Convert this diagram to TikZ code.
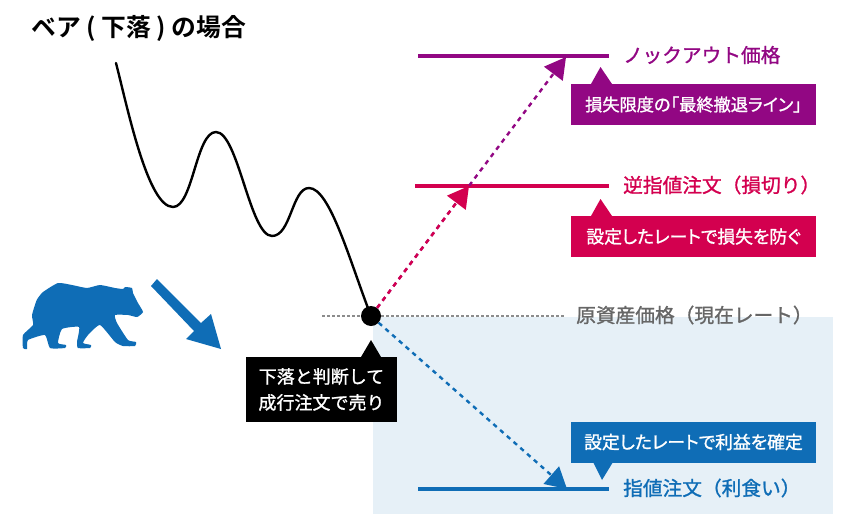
\documentclass[tikz,border=0pt]{standalone}
\usepackage{fontspec}
\setmainfont{Noto Sans CJK JP}[FakeBold=1.2]
\newfontfamily\jpbold{Noto Sans CJK JP Bold}
\newfontfamily\jppal[RawFeature=+palt,FakeBold=1.2]{Noto Sans CJK JP}
\usetikzlibrary{arrows.meta}
\definecolor{cpurple}{HTML}{920783}
\definecolor{cpink}{HTML}{D3004F}
\definecolor{cblue}{HTML}{0F6DB6}
\definecolor{cpale}{HTML}{E6F0F7}
\definecolor{cgray}{HTML}{666666}
\tikzset{
  level/.style={line width=3.6pt},
  dashconn/.style={line width=2.4pt,dash pattern=on 4.5pt off 4.5pt,-{Triangle[length=21pt,width=23pt,sharp]}},
  graydot/.style={color=black!45,line width=2.4pt,dash pattern=on 3pt off 2pt},
  callout/.style={minimum width=245pt,minimum height=41pt,inner sep=0,text=white,font=\fontsize{17.8}{20}\selectfont},
  price/.style={anchor=west,inner sep=0,font=\fontsize{19.7}{23}\selectfont},
}
\begin{document}
\begin{tikzpicture}[x=1pt,y=-1pt]
\useasboundingbox (0,0) rectangle (850,530);
\fill[cpale] (373,317) rectangle (833,514);
\node[anchor=west,inner sep=0,font=\fontsize{24.8}{28}\selectfont] (title) at (31,28) {\jpbold ベア ( 下落 ) の場合};
% price curve
\draw[line width=2.4pt,line cap=round] (116,63) .. controls (128,110) and (148,207) .. (173,207)
  .. controls (193,207) and (196,132) .. (216,132)
  .. controls (238,132) and (250,236) .. (272,236)
  .. controls (291,236) and (292,188) .. (309,188)
  .. controls (330,188) and (350,262) .. (371,316);
% bear
\fill[cblue] plot[smooth cycle,tension=0.3] coordinates {(36.7,300) (43,292) (58,283) (72,285) (87,288) (100,285) (115,288) (123,289) (125,287) (132,288) (133,293) (138,303) (143,312) (137,317) (128,315) (115,315) (117,323) (128,340) (136,342) (135,346) (123,346) (115,342) (100,325) (88,335) (83,343) (91,345) (90,348) (78,348) (77,342) (79,327) (62,329) (58,343) (66,345) (65,348) (50,348) (45,335) (28,340) (27,349) (23,348) (23,335) (33,325) (32,315)};
\fill[cblue] (157,279) -- (151,286) -- (194,331) -- (186,339) -- (221,349) -- (211,314) -- (201,323) -- cycle;
% levels
\draw[level,cpurple] (418,56) coordinate (ka) -- (609,56) coordinate (kb);
\draw[level,cpink] (415,186) coordinate (sa) -- (609,186) coordinate (sb);
\draw[level,cblue] (418,489) coordinate (ta) -- (609,489) coordinate (tb);
\node[circle,fill=black,minimum size=20pt,inner sep=0] (dot) at (371,316) {};
\coordinate (grayl) at (322,316);
\coordinate (grayr) at (565,316);
\draw[graydot] (grayl) -- (dot);
\draw[graydot] (dot) -- (grayr);
\coordinate (kh) at (566,57);
\coordinate (sh) at (469,186);
\coordinate (th) at (567,489);
\draw[dashconn,cpurple] (dot) -- (kh);
\draw[dashconn,cpink] (dot) -- (sh);
\draw[dashconn,cblue] (dot) -- (th);
% labels
\node[price,cpurple] (kl) at (623,55) {ノックアウト価格};
\node[price,cpink] (sl) at (623,185) {逆指値注文（損切り）};
\node[price,cblue] (tl) at (623,488) {指値注文（利食い）};
\node[price,cgray] (gl) at (576,315) {原資産価格（現在レート）};
% callouts
\node[callout,fill=cpurple,font=\fontsize{17.2}{20}\selectfont] (kc) at (693.5,104.5) {\jppal 損失限度の「最終撤退ライン」};
\fill[cpurple] (591,84) -- (600.5,67) -- (612,84) -- cycle;
\node[callout,fill=cpink] (sc) at (693.5,236.5) {\jppal 設定したレートで損失を防ぐ};
\fill[cpink] (591,216) -- (600.5,199) -- (612,216) -- cycle;
\node[callout,fill=cblue] (tc) at (693.5,442) {\jppal 設定したレートで利益を確定};
\fill[cblue] (593,462) -- (602,480) -- (613,462) -- cycle;
\node[callout,fill=black,minimum width=151pt,minimum height=65pt,align=center,font=\fontsize{18}{26}\selectfont] (bc) at (321.5,389.5) {下落と判断して\\成行注文で売り};
\fill[black] (361,357) -- (371,340) -- (381,357) -- cycle;
\end{tikzpicture}
\end{document}
